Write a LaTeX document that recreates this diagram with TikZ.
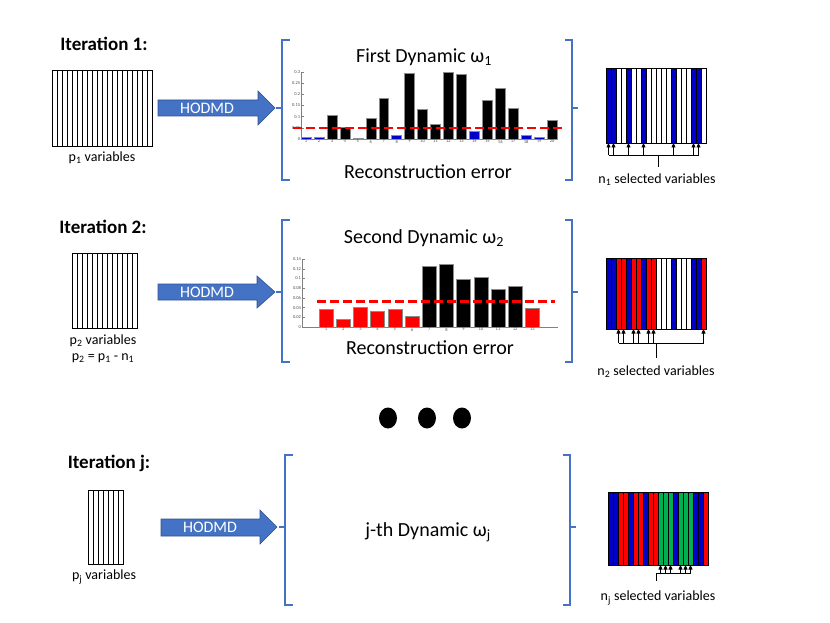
\documentclass[tikz,border=0pt]{standalone}
\usepackage{fontspec}
\setmainfont{Carlito}
\usetikzlibrary{arrows.meta}
\definecolor{hodblue}{HTML}{4472C4}
\definecolor{hodedge}{HTML}{2F528F}
\definecolor{selblue}{RGB}{0,0,200}
\definecolor{selred}{RGB}{255,0,0}
\definecolor{selgreen}{HTML}{00B050}
\tikzset{>={Triangle[length=4.5pt,width=4pt]}}

\begin{document}
\begin{tikzpicture}[x=1pt,y=-1pt,
    iter/.style={font=\fontsize{19}{22}\selectfont\bfseries},
    dyn/.style={font=\fontsize{20}{23}\selectfont},
    small/.style={font=\fontsize{14}{16}\selectfont},
    hodtext/.style={font=\fontsize{16}{18}\selectfont,text=white},
    hodmd/.style={fill=hodblue,draw=hodedge,line width=0.6},
    brk/.style={draw=hodblue,line width=1.8},
    stripe/.style={draw=black,line width=0.7},
    sel/.style={line width=0.7},
    bar/.style={draw=black!45,line width=0.4},
    axis/.style={draw=black!50,line width=0.4},
    tick/.style={font=\fontsize{4.5}{5}\selectfont,text=black!70,inner sep=0.8},
    cut/.style={draw=red,line width=2.6,dash pattern=on 9pt off 4pt}]
    \useasboundingbox (0,0) rectangle (830,623);

    \node[iter] (it1) at (104,44) {Iteration 1:};
    \draw[stripe] (52,70) rectangle (152,146);
    \foreach \i in {1,...,19} \draw[stripe] ({52+5*\i},70) -- ++(0,76);
    \node[small] (p1) at (102,158) {p\textsubscript{1} variables};
    \filldraw[hodmd] (158,100) -- (258,100) -- (258,91) -- (275,108) -- (258,125) -- (258,116) -- (158,116) -- cycle;
    \node[hodtext] (h1) at (207,108) {HODMD};
    \draw[brk] (290,40) -- (282,40) -- (282,180) -- (290,180) (282,108) -- (276,108);
    \draw[brk] (565,40) -- (572,40) -- (572,180) -- (565,180) (572,108) -- (578,108);
    \node[dyn] (d1) at (424,57) {First Dynamic ω\textsubscript{1}};
    \begin{scope}[shift={(293.05,139)},x=12.95pt,y=223.3pt]
        \draw[axis] (0.62,0.3) -- (0.62,0) -- (20.46,0);
        \foreach \t [count=\k] in {0,0.05,0.1,0.15,0.2,0.25,0.3} {
            \draw[axis] (0.62,\t) -- ++(0.2,0);
            \node[tick,anchor=east] (ya\k) at (0.62,\t) {\t};
        }
        \foreach \v/\c [count=\i] in {0.009/selblue,0.006/selblue,0.107/black,0.055/black,0.005/selblue,0.093/black,0.184/black,0.015/selblue,0.294/black,0.133/black,0.067/black,0.298/black,0.288/black,0.037/selblue,0.173/black,0.228/black,0.140/black,0.015/selblue,0.010/selblue,0.085/black} {
            \filldraw[bar,fill=\c] ({\i-0.385},0) rectangle ({\i+0.385},\v);
            \node[tick,anchor=north] (xa\i) at (\i,0) {\i};
        }
        \draw[cut] (0,0.05) -- (20.85,0.05);
    \end{scope}
    \node[dyn] (r1) at (428,172) {Reconstruction error};
    \foreach \c [count=\i] in {selblue,selblue,white,white,selblue,white,white,selblue,white,white,white,white,white,selblue,white,white,white,selblue,selblue,white} {
        \filldraw[stripe,fill=\c] ({601+5*\i},68) rectangle ++(5,75);
        \coordinate (a\i) at ({603.5+5*\i},143);
    }
    \coordinate (bus1) at (658,155);
    \foreach \i in {1,2,5,8,14,18,19} \draw[sel,->] (a\i |- bus1) -- (a\i);
    \draw[sel] (a1 |- bus1) -- (a19 |- bus1) (bus1) -- ++(0,12);
    \node[small] (n1) at (657,180) {n\textsubscript{1} selected variables};

    \node[iter] (it2) at (103,227) {Iteration 2:};
    \draw[stripe] (72,253) rectangle (137,328);
    \foreach \i in {1,...,12} \draw[stripe] ({72+5*\i},253) -- ++(0,75);
    \node[small] (p2) at (103,341) {p\textsubscript{2} variables};
    \node[small] (p2eq) at (103,358) {p\textsubscript{2} = p\textsubscript{1} - n\textsubscript{1}};
    \filldraw[hodmd] (158,284) -- (257,284) -- (257,276) -- (275,292) -- (257,308) -- (257,300) -- (158,300) -- cycle;
    \node[hodtext] (h2) at (207,292) {HODMD};
    \draw[brk] (290,220) -- (282,220) -- (282,362) -- (290,362) (282,292) -- (276,292);
    \draw[brk] (565,220) -- (572,220) -- (572,362) -- (565,362) (572,292) -- (578,292);
    \node[dyn] (d2) at (424,238) {Second Dynamic ω\textsubscript{2}};
    \begin{scope}[shift={(308.8,327)},x=17.2pt,y=485.7pt]
        \draw[axis] (-0.395,0.14) -- (-0.395,0) -- (14.49,0);
        \foreach \t [count=\k] in {0,0.02,0.04,0.06,0.08,0.1,0.12,0.14} {
            \draw[axis] (-0.395,\t) -- ++(0.15,0);
            \node[tick,anchor=east] (yb\k) at (-0.395,\t) {\t};
        }
        \foreach \v/\c [count=\i] in {0.0357/selred,0.0165/selred,0.0398/selred,0.0316/selred,0.037/selred,0.0226/selred,0.1256/black,0.1297/black,0.0988/black,0.103/black,0.077/black,0.085/black,0.0384/selred} {
            \filldraw[bar,fill=\c] ({\i-0.405},0) rectangle ({\i+0.405},\v);
            \node[tick,anchor=north] (xb\i) at (\i,0) {\i};
        }
        \draw[cut] (0.48,0.052) -- (14.3,0.052);
    \end{scope}
    \node[dyn] (r2) at (430,348) {Reconstruction error};
    \foreach \c [count=\i] in {selblue,selblue,selred,selred,selblue,selred,selred,selblue,selred,selred,white,white,white,selblue,white,white,white,selblue,selblue,selred} {
        \filldraw[stripe,fill=\c] ({601+5*\i},258) rectangle ++(5,71);
        \coordinate (b\i) at ({603.5+5*\i},329);
    }
    \coordinate (bus2) at (656,343);
    \foreach \i in {3,4,6,7,9,10,20} \draw[sel,->] (b\i |- bus2) -- (b\i);
    \draw[sel] (b3 |- bus2) -- (b20 |- bus2) (bus2) -- ++(0,15);
    \node[small] (n2) at (656,372) {n\textsubscript{2} selected variables};

    \foreach \x [count=\k] in {388,427,462} \fill (\x,418) ellipse [x radius=9pt,y radius=10.5pt];

    \node[iter] (itj) at (109,463) {Iteration j:};
    \draw[stripe] (88,490) rectangle (123,564);
    \foreach \i in {1,...,6} \draw[stripe] ({88+5*\i},490) -- ++(0,74);
    \node[small] (pj) at (104,577) {p\textsubscript{j} variables};
    \filldraw[hodmd] (161,519) -- (260,519) -- (260,510) -- (277,527) -- (260,544) -- (260,536) -- (161,536) -- cycle;
    \node[hodtext] (hj) at (210,527) {HODMD};
    \draw[brk] (293,455) -- (285,455) -- (285,605) -- (293,605) (285,527) -- (279,527);
    \draw[brk] (563,455) -- (570,455) -- (570,605) -- (563,605) (570,527) -- (576,527);
    \node[dyn] (dj) at (428,532) {j-th Dynamic ω\textsubscript{j}};
    \foreach \c [count=\i] in {selblue,selblue,selred,selred,selblue,selred,selred,selblue,selred,selred,selgreen,selgreen,selgreen,selblue,selgreen,selgreen,selgreen,selblue,selblue,selred} {
        \filldraw[stripe,fill=\c] ({603+5*\i},492) rectangle ++(5,73);
        \coordinate (c\i) at ({605.5+5*\i},565);
    }
    \coordinate (busj) at (656,573);
    \foreach \i in {11,12,13,15,16,17} \draw[sel,->] (c\i |- busj) -- (c\i);
    \draw[sel] (busj) -- (c17 |- busj) (busj) -- ++(0,8);
    \node[small] (nj) at (658,598) {n\textsubscript{j} selected variables};
\end{tikzpicture}
\end{document}
